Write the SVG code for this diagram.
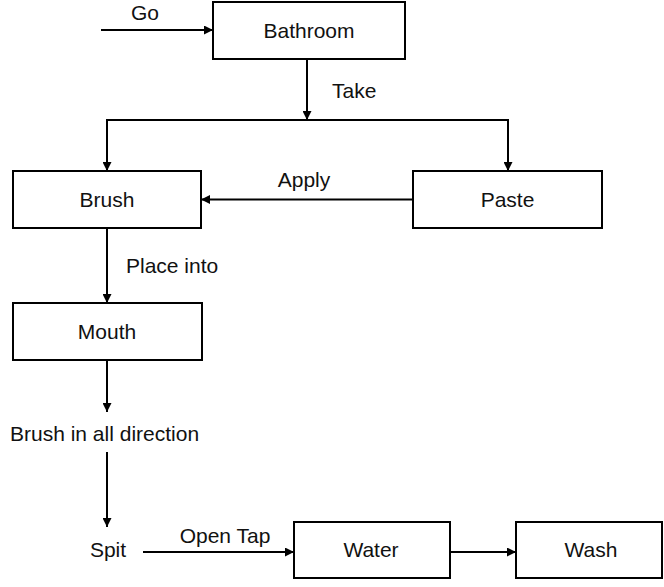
<svg xmlns="http://www.w3.org/2000/svg" width="664" height="587" viewBox="0 0 664 587">
  <style>
    .box { fill: #ffffff; stroke: #000000; stroke-width: 2; }
    .lbl { font-family: "Liberation Sans", Arial, sans-serif; font-size: 21px; fill: #111111; }
    .mid { text-anchor: middle; }
    .edge { fill: none; stroke: #000000; stroke-width: 2; }
  </style>
  <defs>
    <marker id="arrow" markerUnits="userSpaceOnUse" markerWidth="10" markerHeight="9" refX="9" refY="4.5" orient="auto">
      <path d="M0,0 L9,4.5 L0,9 z" fill="#000000"/>
    </marker>
  </defs>

  <rect width="664" height="587" fill="#ffffff"/>

  <g id="connectors">
    <path class="edge" d="M101,30 H213" marker-end="url(#arrow)"/>
    <text class="lbl mid" x="145" y="20">Go</text>
    <path class="edge" d="M307,59 V120" marker-end="url(#arrow)"/>
    <text class="lbl" x="332" y="98">Take</text>
    <path class="edge" d="M307,120 H107 V171" marker-end="url(#arrow)"/>
    <path class="edge" d="M307,120 H508 V171" marker-end="url(#arrow)"/>
    <path class="edge" d="M413,199.5 H201" marker-end="url(#arrow)"/>
    <text class="lbl mid" x="304" y="187">Apply</text>
    <path class="edge" d="M107,228 V303" marker-end="url(#arrow)"/>
    <text class="lbl" x="126" y="273">Place into</text>
    <path class="edge" d="M107,360 V412" marker-end="url(#arrow)"/>
    <path class="edge" d="M107,452 V527" marker-end="url(#arrow)"/>
    <path class="edge" d="M143,552 H294" marker-end="url(#arrow)"/>
    <text class="lbl mid" x="225" y="543">Open Tap</text>
    <path class="edge" d="M450,552 H516" marker-end="url(#arrow)"/>
  </g>

  <g id="bathroom">
    <rect class="box" x="213" y="2" width="192" height="57"/>
    <text class="lbl mid" x="309" y="38">Bathroom</text>
  </g>
  <g id="brush">
    <rect class="box" x="13" y="171" width="188" height="57"/>
    <text class="lbl mid" x="107" y="207">Brush</text>
  </g>
  <g id="paste">
    <rect class="box" x="413" y="171" width="189" height="57"/>
    <text class="lbl mid" x="507.5" y="207">Paste</text>
  </g>
  <g id="mouth">
    <rect class="box" x="13" y="303" width="189" height="57"/>
    <text class="lbl mid" x="107" y="339">Mouth</text>
  </g>
  <g id="brush-all">
    <text class="lbl" x="10" y="441">Brush in all direction</text>
  </g>
  <g id="spit">
    <text class="lbl mid" x="108" y="557">Spit</text>
  </g>
  <g id="water">
    <rect class="box" x="294" y="522" width="156" height="56"/>
    <text class="lbl mid" x="371" y="557">Water</text>
  </g>
  <g id="wash">
    <rect class="box" x="516" y="522" width="146" height="56"/>
    <text class="lbl mid" x="591" y="557">Wash</text>
  </g>
</svg>
